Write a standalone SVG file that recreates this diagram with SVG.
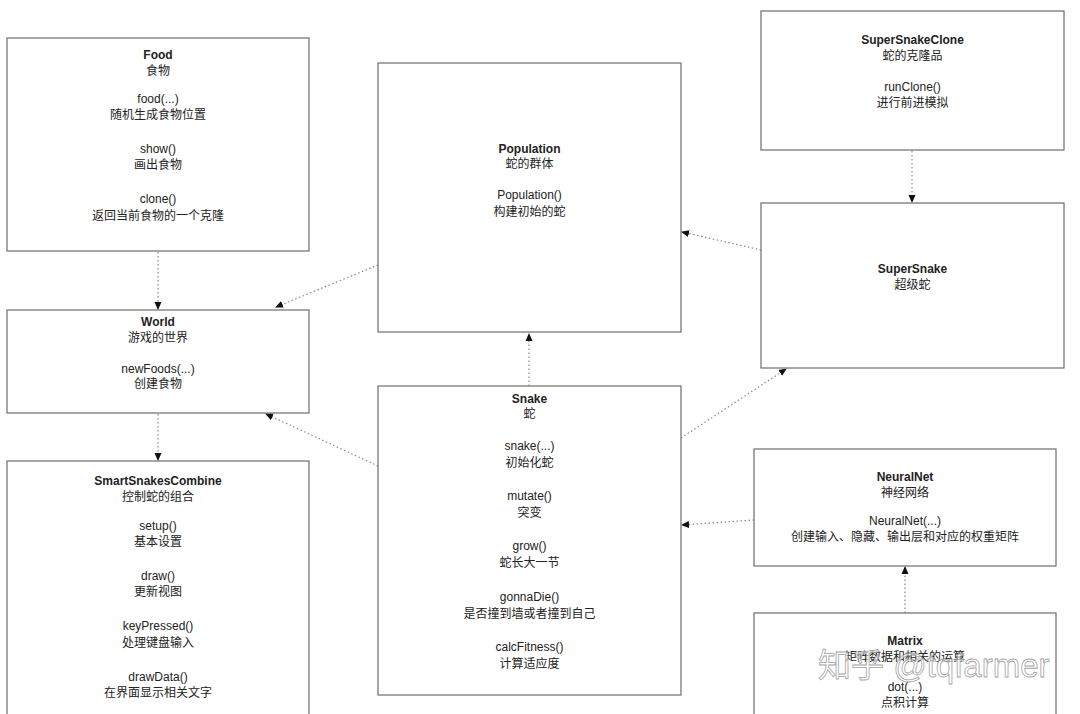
<svg xmlns="http://www.w3.org/2000/svg" width="1080" height="714" viewBox="0 0 1080 714">
<style>
.box{fill:#fff;stroke:#6f6f66;stroke-width:1.2}
text{font-family:"Liberation Sans","Noto Sans CJK SC",sans-serif;font-size:12px;fill:#222;text-anchor:middle}
.t{font-weight:bold}
.c{stroke:#888;stroke-width:1.2;stroke-dasharray:1.5 2.5;fill:none;marker-end:url(#ah)}
.wm{font-family:"Liberation Sans","Noto Sans CJK SC",sans-serif;font-size:33px;fill:#fff;fill-opacity:0.6;stroke:#888;stroke-width:0.8;stroke-opacity:0.8;text-anchor:start}
</style>
<defs>
<marker id="ah" markerWidth="8" markerHeight="8" refX="7" refY="4" orient="auto" markerUnits="userSpaceOnUse">
<path d="M0,0.5 L8,4 L0,7.5 Z" fill="#111"/>
</marker>
</defs>
<rect width="1080" height="714" fill="#fff"/>
<g id="connectors">
<line class="c" x1="158" y1="252" x2="158" y2="309"/>
<line class="c" x1="158" y1="414" x2="158" y2="460"/>
<line class="c" x1="378" y1="265" x2="276" y2="307"/>
<line class="c" x1="378" y1="466" x2="266" y2="414"/>
<line class="c" x1="529" y1="386" x2="529" y2="334"/>
<line class="c" x1="761" y1="250" x2="682" y2="232"/>
<line class="c" x1="681" y1="438" x2="786" y2="369"/>
<line class="c" x1="754" y1="520" x2="682" y2="525"/>
<line class="c" x1="905" y1="613" x2="905" y2="567"/>
<line class="c" x1="912" y1="151" x2="912" y2="202"/>
</g>
<g id="food">
<rect class="box" x="7" y="38" width="302" height="213"/>
<text class="t" x="158" y="59">Food</text>
<text x="158" y="75">食物</text>
<text x="158" y="103">food(...)</text>
<text x="158" y="119">随机生成食物位置</text>
<text x="158" y="153">show()</text>
<text x="158" y="169">画出食物</text>
<text x="158" y="203">clone()</text>
<text x="158" y="220">返回当前食物的一个克隆</text>
</g>
<g id="world">
<rect class="box" x="7" y="310" width="302" height="103"/>
<text class="t" x="158" y="326">World</text>
<text x="158" y="342">游戏的世界</text>
<text x="158" y="373">newFoods(...)</text>
<text x="158" y="388">创建食物</text>
</g>
<g id="smartsnakescombine">
<rect class="box" x="7" y="461" width="302" height="260"/>
<text class="t" x="158" y="485">SmartSnakesCombine</text>
<text x="158" y="501">控制蛇的组合</text>
<text x="158" y="530">setup()</text>
<text x="158" y="546">基本设置</text>
<text x="158" y="580">draw()</text>
<text x="158" y="596">更新视图</text>
<text x="158" y="630">keyPressed()</text>
<text x="158" y="647">处理键盘输入</text>
<text x="158" y="681">drawData()</text>
<text x="158" y="697">在界面显示相关文字</text>
</g>
<g id="population">
<rect class="box" x="378" y="63" width="303" height="269"/>
<text class="t" x="529.5" y="153">Population</text>
<text x="529.5" y="168">蛇的群体</text>
<text x="529.5" y="199">Population()</text>
<text x="529.5" y="216">构建初始的蛇</text>
</g>
<g id="snake">
<rect class="box" x="378" y="386" width="303" height="309"/>
<text class="t" x="529.5" y="403">Snake</text>
<text x="529.5" y="418">蛇</text>
<text x="529.5" y="450">snake(...)</text>
<text x="529.5" y="467">初始化蛇</text>
<text x="529.5" y="500">mutate()</text>
<text x="529.5" y="517">突变</text>
<text x="529.5" y="550">grow()</text>
<text x="529.5" y="567">蛇长大一节</text>
<text x="529.5" y="601">gonnaDie()</text>
<text x="529.5" y="618">是否撞到墙或者撞到自己</text>
<text x="529.5" y="651">calcFitness()</text>
<text x="529.5" y="668">计算适应度</text>
</g>
<g id="supersnakeclone">
<rect class="box" x="761" y="11" width="303" height="139"/>
<text class="t" x="912.5" y="44">SuperSnakeClone</text>
<text x="912.5" y="60">蛇的克隆品</text>
<text x="912.5" y="91">runClone()</text>
<text x="912.5" y="107">进行前进模拟</text>
</g>
<g id="supersnake">
<rect class="box" x="761" y="203" width="303" height="165"/>
<text class="t" x="912.5" y="273">SuperSnake</text>
<text x="912.5" y="289">超级蛇</text>
</g>
<g id="neuralnet">
<rect class="box" x="754" y="449" width="302" height="117"/>
<text class="t" x="905" y="481">NeuralNet</text>
<text x="905" y="497">神经网络</text>
<text x="905" y="525">NeuralNet(...)</text>
<text x="905" y="541">创建输入、隐藏、输出层和对应的权重矩阵</text>
</g>
<g id="matrix">
<rect class="box" x="754" y="613" width="302" height="110"/>
<text class="t" x="905" y="645">Matrix</text>
<text x="905" y="661">矩阵数据和相关的运算</text>
<text x="905" y="691">dot(...)</text>
<text x="905" y="707">点积计算</text>
</g>
<text class="wm" x="818" y="677">知乎 @tqfarmer</text>
</svg>
